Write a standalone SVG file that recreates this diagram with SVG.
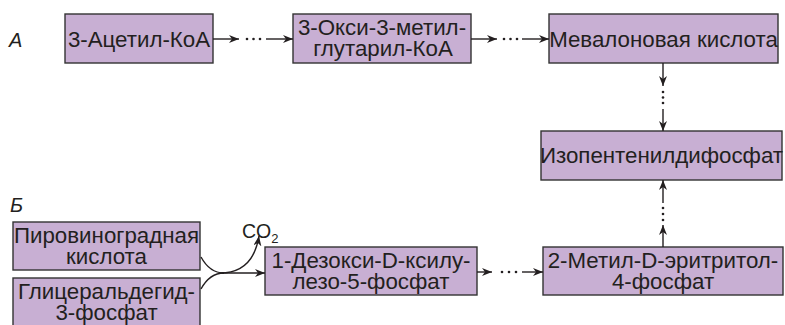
<svg xmlns="http://www.w3.org/2000/svg" width="785" height="325" viewBox="0 0 785 325">
<defs>
<style>
.box{fill:#c8afd3;stroke:#333;stroke-width:1.4}
.t{font-family:"Liberation Sans",Arial,sans-serif;font-size:22.3px;fill:#231f20;text-anchor:middle}
.lbl{font-family:"Liberation Sans",Arial,sans-serif;font-size:20px;font-style:italic;fill:#231f20}
.ln{fill:none;stroke:#231f20;stroke-width:1.4}
.dot{fill:#231f20}
</style>
<marker id="ah" viewBox="0 0 10 8" refX="10" refY="4" markerWidth="10" markerHeight="8" markerUnits="userSpaceOnUse" orient="auto">
<path d="M0,0 L10,4 L0,8 L3,4 z" fill="#231f20"/>
</marker>
</defs>
<rect width="785" height="325" fill="#fff"/>
<text class="lbl" x="9" y="47">А</text>
<text class="lbl" x="10" y="212">Б</text>
<g id="n1"><rect class="box" x="65" y="14" width="148" height="49"/><text class="t" x="139" y="47">3-Ацетил-КоА</text></g>
<g id="n2"><rect class="box" x="293" y="14" width="178" height="49"/><text class="t"><tspan x="382" y="35">3-Окси-3-метил-</tspan><tspan x="383" y="56">глутарил-КоА</tspan></text></g>
<g id="n3"><rect class="box" x="549" y="14" width="229" height="49"/><text class="t" x="663.5" y="47">Мевалоновая кислота</text></g>
<g id="n4"><rect class="box" x="541" y="131" width="241" height="49"/><text class="t" x="661.5" y="163">Изопентенилдифосфат</text></g>
<g id="n5"><rect class="box" x="13" y="222" width="187" height="48"/><text class="t"><tspan x="106.5" y="243">Пировиноградная</tspan><tspan x="106.5" y="264">кислота</tspan></text></g>
<g id="n6"><rect class="box" x="13" y="278" width="187" height="50"/><text class="t"><tspan x="106.5" y="299">Глицеральдегид-</tspan><tspan x="106.5" y="320">3-фосфат</tspan></text></g>
<g id="n7"><rect class="box" x="265" y="247" width="212" height="48"/><text class="t"><tspan x="371" y="268">1-Дезокси-D-ксилу-</tspan><tspan x="371" y="289">лезо-5-фосфат</tspan></text></g>
<g id="n8"><rect class="box" x="543" y="247" width="240" height="48"/><text class="t"><tspan x="663" y="268">2-Метил-D-эритритол-</tspan><tspan x="663" y="289">4-фосфат</tspan></text></g>
<g id="co2"><text font-family="Liberation Sans,Arial,sans-serif" font-size="19.5" fill="#231f20" x="242" y="238">CO<tspan font-size="13" dy="5">2</tspan></text></g>
<g id="connectors">
<line class="ln" x1="213" y1="39" x2="239" y2="39" marker-end="url(#ah)"/>
<circle class="dot" cx="247" cy="39" r="1.3"/><circle class="dot" cx="253.5" cy="39" r="1.3"/><circle class="dot" cx="260" cy="39" r="1.3"/>
<line class="ln" x1="266" y1="39" x2="293" y2="39" marker-end="url(#ah)"/>
<line class="ln" x1="471" y1="39" x2="497" y2="39" marker-end="url(#ah)"/>
<circle class="dot" cx="504" cy="39" r="1.3"/><circle class="dot" cx="510.5" cy="39" r="1.3"/><circle class="dot" cx="517" cy="39" r="1.3"/>
<line class="ln" x1="522" y1="39" x2="549" y2="39" marker-end="url(#ah)"/>
<line class="ln" x1="663" y1="63" x2="663" y2="86" marker-end="url(#ah)"/>
<circle class="dot" cx="663" cy="92" r="1.3"/><circle class="dot" cx="663" cy="97.5" r="1.3"/><circle class="dot" cx="663" cy="103" r="1.3"/>
<line class="ln" x1="663" y1="109" x2="663" y2="131" marker-end="url(#ah)"/>
<line class="ln" x1="663" y1="247" x2="663" y2="225" marker-end="url(#ah)"/>
<circle class="dot" cx="663" cy="220" r="1.3"/><circle class="dot" cx="663" cy="214" r="1.3"/><circle class="dot" cx="663" cy="208" r="1.3"/>
<line class="ln" x1="663" y1="203" x2="663" y2="180" marker-end="url(#ah)"/>
<line class="ln" x1="477" y1="272" x2="492" y2="272" marker-end="url(#ah)"/>
<circle class="dot" cx="502" cy="272" r="1.3"/><circle class="dot" cx="509" cy="272" r="1.3"/><circle class="dot" cx="516" cy="272" r="1.3"/>
<line class="ln" x1="522" y1="272" x2="543" y2="272" marker-end="url(#ah)"/>
<path class="ln" d="M201,257 C207,268 214,273 224,273"/>
<path class="ln" d="M201,289 C207,278 214,273 224,273"/>
<line class="ln" x1="222" y1="273" x2="265" y2="273" marker-end="url(#ah)"/>
<path class="ln" d="M220,273 C242,273 255,261 259,236" marker-end="url(#ah)"/>
</g>
</svg>
